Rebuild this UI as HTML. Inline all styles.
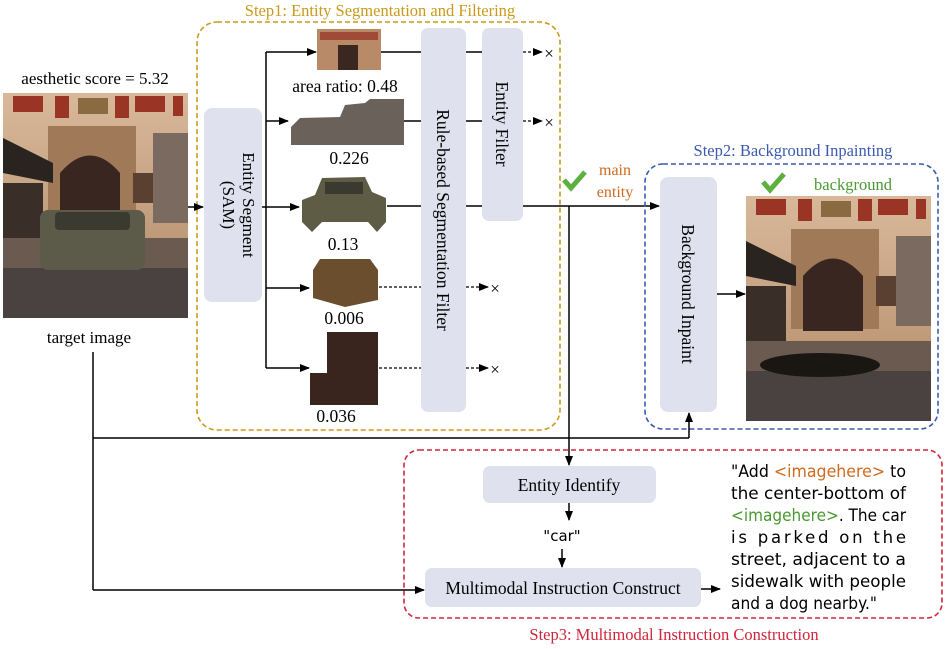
<!DOCTYPE html>
<html><head><meta charset="utf-8"><style>
html,body{margin:0;padding:0;background:#fff;}
svg{display:block;}
text{font-family:"Liberation Serif",serif;}
.m text{font-family:"DejaVu Sans",sans-serif;font-size:16.5px;}
</style></head><body>
<svg width="946" height="649" viewBox="0 0 946 649" xmlns="http://www.w3.org/2000/svg">
<defs>
<marker id="a" markerWidth="10" markerHeight="10" refX="9" refY="5" orient="auto" markerUnits="userSpaceOnUse"><path d="M0,1 L10,5 L0,9 z" fill="#000"/></marker>
<linearGradient id="wall" x1="0" y1="0" x2="0" y2="1"><stop offset="0" stop-color="#d9b89a"/><stop offset="1" stop-color="#b08a68"/></linearGradient>
<g id="photo">
<rect x="0" y="0" width="185" height="225" fill="url(#wall)"/>
<rect x="10" y="3" width="30" height="16" fill="#9a3424"/>
<rect x="52" y="3" width="14" height="22" fill="#9a3424"/>
<rect x="75" y="5" width="30" height="16" fill="#8a6a40"/>
<rect x="112" y="3" width="14" height="22" fill="#9a3424"/>
<rect x="132" y="3" width="30" height="16" fill="#9a3424"/>
<rect x="170" y="3" width="10" height="20" fill="#9a3424"/>
<rect x="45" y="33" width="88" height="100" fill="#a07a58"/>
<path d="M57,135 L57,80 Q87,45 117,80 L117,135 z" fill="#3a2620"/>
<rect x="130" y="80" width="30" height="30" fill="#5a4030"/>
<path d="M0,45 L50,70 L50,90 L0,80 z" fill="#2a2420"/>
<rect x="0" y="90" width="40" height="60" fill="#3a2e28"/>
<rect x="150" y="40" width="35" height="90" fill="#7a6a60"/>
<rect x="0" y="145" width="185" height="30" fill="#6a5a50"/>
<rect x="0" y="175" width="185" height="50" fill="#4a4240"/>
</g>
</defs>

<text x="95" y="84" font-size="17" text-anchor="middle">aesthetic score = 5.32</text>
<use href="#photo" x="3" y="93"/>
<rect x="40" y="210" width="105" height="60" rx="8" fill="#5c5a48"/>
<rect x="55" y="212" width="75" height="18" rx="4" fill="#3a3a30"/>
<text x="89" y="343" font-size="17" text-anchor="middle">target image</text>

<text x="380" y="16" font-size="16.5" text-anchor="middle" fill="#c99a1a">Step1: Entity Segmentation and Filtering</text>
<rect x="197" y="22" width="363" height="408" rx="20" fill="none" stroke="#c99a1a" stroke-width="1.6" stroke-dasharray="5,3"/>
<line x1="188" y1="207" x2="203" y2="207" stroke="#000" stroke-width="1.5" marker-end="url(#a)"/>
<rect x="204" y="108" width="58" height="194" rx="8" fill="#dfe1ee"/>
<text transform="translate(237,205) rotate(90)" font-size="17" text-anchor="middle"><tspan x="0" y="-6">Entity Segment</tspan><tspan x="0" y="14">(SAM)</tspan></text>
<line x1="262" y1="207" x2="266" y2="207" stroke="#000" stroke-width="1.5"/>
<line x1="266" y1="52" x2="266" y2="368" stroke="#000" stroke-width="1.5"/>
<line x1="266" y1="52" x2="316" y2="52" stroke="#000" stroke-width="1.5" marker-end="url(#a)"/>
<line x1="266" y1="121" x2="288" y2="121" stroke="#000" stroke-width="1.5" marker-end="url(#a)"/>
<line x1="266" y1="207" x2="299" y2="207" stroke="#000" stroke-width="1.5" marker-end="url(#a)"/>
<line x1="266" y1="288" x2="309" y2="288" stroke="#000" stroke-width="1.5" marker-end="url(#a)"/>
<line x1="266" y1="368" x2="309" y2="368" stroke="#000" stroke-width="1.5" marker-end="url(#a)"/>

<rect x="317" y="29" width="64" height="41" fill="#b88a68"/>
<rect x="320" y="32" width="58" height="8" fill="#a04a38"/>
<rect x="338" y="45" width="20" height="25" fill="#3a2820"/>
<text x="345" y="92" font-size="17.5" text-anchor="middle">area ratio: 0.48</text>
<path d="M291,127 L300,118 L340,117 L345,105 L365,103 L370,99 L404,99 L404,145 L291,145 z" fill="#6a625a"/>
<text x="349" y="164" font-size="17.5" text-anchor="middle">0.226</text>
<path d="M302,200 L315,195 L322,178 L365,177 L372,192 L386,198 L386,222 L377,232 L368,222 L322,222 L312,232 L302,222 z" fill="#5e5c44"/>
<rect x="325" y="182" width="38" height="12" fill="#3a3a30"/>
<text x="343" y="250" font-size="17.5" text-anchor="middle">0.13</text>
<path d="M313,270 L320,259 L370,259 L378,270 L378,300 L345,307 L313,298 z" fill="#6a4e2e"/>
<text x="344" y="324" font-size="17.5" text-anchor="middle">0.006</text>
<path d="M327,332 L378,332 L378,405 L310,405 L310,373 L327,373 z" fill="#3a241e"/>
<text x="336" y="422" font-size="17.5" text-anchor="middle">0.036</text>

<line x1="381" y1="52" x2="421" y2="52" stroke="#000" stroke-width="1.5"/>
<line x1="466" y1="52" x2="482" y2="52" stroke="#000" stroke-width="1.5"/>
<line x1="404" y1="121" x2="421" y2="121" stroke="#000" stroke-width="1.5"/>
<line x1="466" y1="121" x2="482" y2="121" stroke="#000" stroke-width="1.5"/>
<line x1="387" y1="206" x2="421" y2="206" stroke="#000" stroke-width="1.5"/>
<line x1="466" y1="206" x2="482" y2="206" stroke="#000" stroke-width="1.5"/>
<line x1="379" y1="287" x2="421" y2="287" stroke="#000" stroke-width="1.3" stroke-dasharray="3,2"/>
<line x1="466" y1="287" x2="488" y2="287" stroke="#000" stroke-width="1.3" stroke-dasharray="3,2" marker-end="url(#a)"/>
<line x1="379" y1="368" x2="421" y2="368" stroke="#000" stroke-width="1.3" stroke-dasharray="3,2"/>
<line x1="466" y1="368" x2="488" y2="368" stroke="#000" stroke-width="1.3" stroke-dasharray="3,2" marker-end="url(#a)"/>
<text x="495" y="294" font-size="17" text-anchor="middle">×</text>
<text x="495" y="375" font-size="17" text-anchor="middle">×</text>
<line x1="523" y1="52" x2="542" y2="52" stroke="#000" stroke-width="1.3" stroke-dasharray="3,2" marker-end="url(#a)"/>
<line x1="523" y1="121" x2="542" y2="121" stroke="#000" stroke-width="1.3" stroke-dasharray="3,2" marker-end="url(#a)"/>
<text x="549" y="59" font-size="17" text-anchor="middle">×</text>
<text x="549" y="128" font-size="17" text-anchor="middle">×</text>

<rect x="421" y="28" width="45" height="384" rx="7" fill="#dfe1ee"/>
<text transform="translate(443,220) rotate(90)" font-size="17.5" text-anchor="middle" y="6">Rule-based Segmentation Filter</text>
<rect x="482" y="28" width="41" height="193" rx="7" fill="#dfe1ee"/>
<text transform="translate(502,124) rotate(90)" font-size="17.5" text-anchor="middle" y="6">Entity Filter</text>

<line x1="523" y1="206" x2="659" y2="206" stroke="#000" stroke-width="1.5" marker-end="url(#a)"/>
<path d="M564,180 L571,188 L585,172" fill="none" stroke="#5cb040" stroke-width="5"/>
<text x="615" y="175" font-size="16" text-anchor="middle" fill="#d06a20">main</text>
<text x="615" y="197" font-size="16" text-anchor="middle" fill="#d06a20">entity</text>
<line x1="569" y1="206" x2="569" y2="465" stroke="#000" stroke-width="1.5" marker-end="url(#a)"/>

<text x="793" y="156" font-size="16.5" text-anchor="middle" fill="#3a5ab0">Step2: Background Inpainting</text>
<rect x="645" y="164" width="293" height="265" rx="18" fill="none" stroke="#3a5ab0" stroke-width="1.6" stroke-dasharray="5,3"/>
<rect x="660" y="177" width="57" height="235" rx="8" fill="#dfe1ee"/>
<text transform="translate(688,294) rotate(90)" font-size="17.5" text-anchor="middle" y="6">Background Inpaint</text>
<line x1="717" y1="294" x2="745" y2="294" stroke="#000" stroke-width="1.5" marker-end="url(#a)"/>
<use href="#photo" x="746" y="196"/>
<ellipse cx="820" cy="365" rx="60" ry="12" fill="#1a1612"/>
<path d="M763,182 L770,190 L784,174" fill="none" stroke="#5cb040" stroke-width="5"/>
<text x="853" y="190" font-size="16.5" text-anchor="middle" fill="#4a9a30">background</text>

<line x1="93" y1="352" x2="93" y2="590" stroke="#000" stroke-width="1.5"/>
<line x1="93" y1="438" x2="689" y2="438" stroke="#000" stroke-width="1.5"/>
<line x1="689" y1="438" x2="689" y2="413" stroke="#000" stroke-width="1.5" marker-end="url(#a)"/>
<line x1="93" y1="590" x2="424" y2="590" stroke="#000" stroke-width="1.5" marker-end="url(#a)"/>

<rect x="404" y="450" width="538" height="168" rx="15" fill="none" stroke="#d0243a" stroke-width="1.6" stroke-dasharray="5,3"/>
<text x="674" y="640" font-size="16.5" text-anchor="middle" fill="#d0243a">Step3: Multimodal Instruction Construction</text>
<rect x="483" y="466" width="173" height="37" rx="7" fill="#dfe1ee"/>
<text x="569" y="491" font-size="17.5" text-anchor="middle">Entity Identify</text>
<line x1="569" y1="503" x2="569" y2="520" stroke="#000" stroke-width="1.5" marker-end="url(#a)"/>
<text x="562" y="541" text-anchor="middle" style="font-family:'DejaVu Sans',sans-serif;font-size:15px">"car"</text>
<line x1="562" y1="549" x2="562" y2="567" stroke="#000" stroke-width="1.5" marker-end="url(#a)"/>
<rect x="425" y="568" width="276" height="39" rx="7" fill="#dfe1ee"/>
<text x="563" y="594" font-size="17.5" text-anchor="middle">Multimodal Instruction Construct</text>
<line x1="701" y1="589" x2="720" y2="589" stroke="#000" stroke-width="1.5" marker-end="url(#a)"/>

<g class="m">
<text x="731" y="477" textLength="175" lengthAdjust="spacingAndGlyphs">"Add <tspan fill="#d06a20">&lt;imagehere&gt;</tspan> to</text>
<text x="731" y="499" textLength="175" lengthAdjust="spacingAndGlyphs">the center-bottom of</text>
<text x="731" y="521" textLength="175" lengthAdjust="spacingAndGlyphs"><tspan fill="#4a9a30">&lt;imagehere&gt;</tspan>. The car</text>
<text x="731" y="543" textLength="175" lengthAdjust="spacing">is parked on the</text>
<text x="731" y="565" textLength="175" lengthAdjust="spacingAndGlyphs">street, adjacent to a</text>
<text x="731" y="587" textLength="175" lengthAdjust="spacingAndGlyphs">sidewalk with people</text>
<text x="731" y="609" textLength="146" lengthAdjust="spacingAndGlyphs">and a dog nearby."</text>
</g>
</svg>
</body></html>
